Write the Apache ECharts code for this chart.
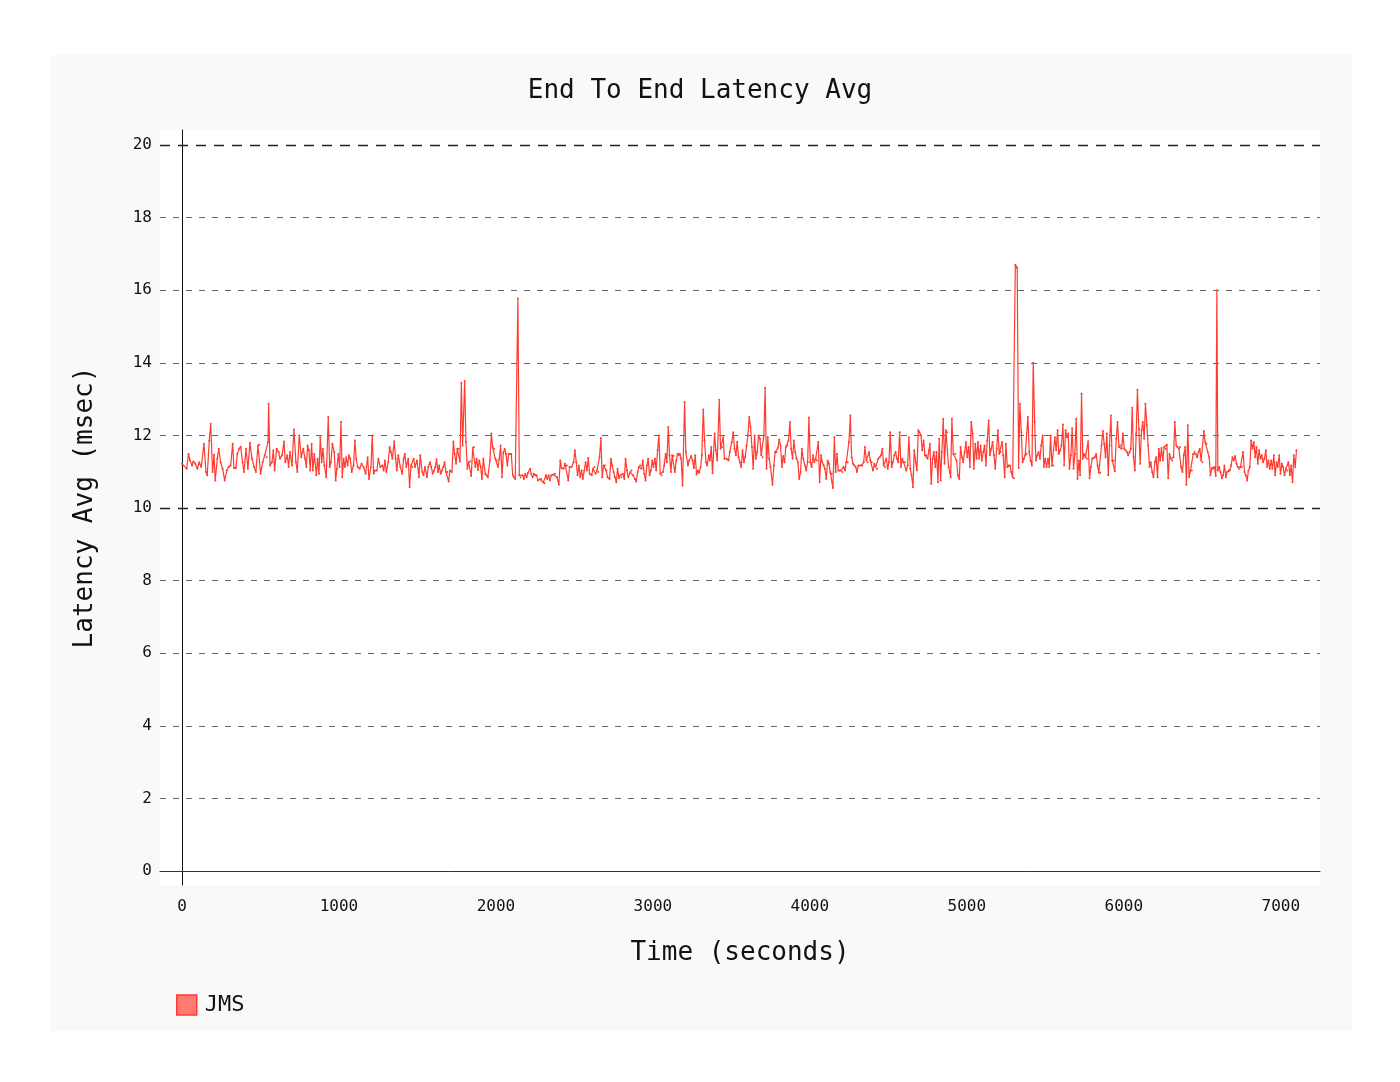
<!DOCTYPE html>
<html><head><meta charset="utf-8">
<script src="https://cdn.jsdelivr.net/npm/echarts@6/dist/echarts.min.js"></script>
<style>
html,body{margin:0;padding:0;background:#fff;}
#panel{position:absolute;left:50px;top:55px;width:1302px;height:976px;background:#f9f9f9;}
#chart{position:absolute;left:0;top:0;width:1400px;height:1082px;}
</style></head><body>
<div id="panel"></div><div id="chart"></div>
<script>
const times = [
0,30,42,51,64,72,85,98,110,123,140,153,161,174,183,195,204,212,225,234,246,259,272,285,297,310,323,331,344,352,365,374,386,395,408,420,433,446,459,471,484,493,501,514,527,539,548,552,561,573,582,590,603,616,624,637,650,658,671,679,688,701,713,726,735,747,760,773,
784,792,800,809,817,826,834,843,856,864,873,881,890,898,907,919,932,941,949,958,970,979,987,996,1004,1013,1021,1030,1038,1047,1055,1064,1072,1081,1093,1102,1110,1119,1132,1144,1157,1170,1183,1191,1204,1212,1221,1229,1242,1251,1263,1276,1285,1293,1302,1314,1323,1331,1340,1352,1361,1369,1378,1391,1403,1412,1420,1429,1442,1450,1459,1467,1476,1484,1497,1510,1518,1531,1539,1548,1561,1569,
1580,1588,1597,1605,1614,1622,1631,1639,1648,1656,1665,1673,1682,1690,1699,1707,1720,1729,1737,1746,1754,1763,1771,1780,1788,1801,1809,1818,1826,1835,1843,1852,1860,1869,1877,1886,1894,1903,1911,1920,1932,1941,1949,1962,1971,1979,1988,1996,2005,2013,2022,2030,2039,2047,2056,2064,2073,2081,2090,2098,2107,2115,2123,2140,2149,2157,2170,2179,2187,2196,2204,2217,2225,2234,2242,2251,2259,2268,2281,2289,2302,2310,2319,2327,2336,2344,2353,2366,
2376,2389,2401,2410,2418,2431,2440,2452,2461,2469,2482,2495,2503,2512,2520,2529,2537,2546,2554,2563,2571,2580,2588,2597,2610,2618,2627,2635,2644,2652,2660,2669,2677,2686,2694,2703,2711,2724,2733,2741,2750,2758,2767,2775,2784,2792,2801,2809,2818,2826,2835,2843,2856,2864,2873,2886,2894,2903,2911,2919,2928,2936,2945,2953,2962,2970,2979,2987,2996,3004,3013,3021,3030,3038,3047,3055,3064,3072,3081,3089,3098,3106,3115,3123,3132,3140,3149,3157,3166,
3172,3180,3189,3202,3210,3223,3231,3244,3253,3261,3270,3278,3287,3295,3304,3312,3321,3329,3338,3346,3355,3363,3372,3380,3393,3401,3410,3423,3431,3440,3448,3456,3469,3482,3490,3503,3512,3520,3529,3537,3546,3554,3563,3571,3580,3588,3597,3605,3614,3622,3631,3639,3648,3656,3665,3673,3682,3690,3699,3707,3715,3724,3732,3741,3749,3762,3771,3779,3788,3796,3805,3813,3822,3830,3839,3847,3856,3864,3873,3881,3890,3898,3907,3915,3924,3932,3941,3949,3958,
3969,3977,3986,3994,4003,4011,4020,4028,4037,4045,4054,4062,4071,4079,4088,4096,4105,4113,4122,4130,4139,4147,4156,4164,4173,4181,4190,4198,4207,4215,4224,4232,4241,4249,4258,4266,4275,4283,4292,4300,4309,4317,4326,4334,4343,4351,4360,4368,4377,4385,4394,4402,4411,4419,4428,4436,4445,4453,4462,4470,4479,4487,4496,4504,4512,4521,4529,4538,4546,4555,4563,4572,4580,4589,4597,4606,4614,4623,4631,4640,4648,4657,4665,4674,4682,4691,4699,4708,4716,4725,4733,4742,4750,4759,
4765,4773,4782,4790,4799,4807,4816,4824,4833,4841,4850,4858,4867,4875,4884,4897,4905,4914,4926,4935,4943,4952,4960,4969,4977,4986,4994,5003,5011,5020,5028,5037,5045,5054,5062,5071,5079,5088,5096,5105,5113,5122,5130,5139,5147,5156,5164,5173,5181,5190,5198,5207,5215,5224,5232,5241,5249,5258,5266,5275,5283,5292,5300,5309,5321,5330,5338,5347,5355,5364,5372,5381,5389,5398,5406,5415,5423,5432,5440,5449,5457,5466,5474,5483,5491,5500,5508,5517,5525,5534,5542,5551,
5561,5569,5578,5586,5595,5603,5612,5620,5629,5637,5646,5654,5663,5671,5680,5688,5697,5705,5714,5722,5731,5739,5748,5756,5765,5773,5782,5790,5799,5807,5816,5824,5833,5841,5850,5858,5867,5875,5884,5892,5901,5909,5918,5926,5935,5943,5952,5960,5969,5977,5986,5994,6003,6011,6020,6028,6037,6045,6054,6062,6071,6079,6087,6096,6104,6113,6121,6130,6138,6147,6155,6164,6172,6181,6189,6198,6206,6215,6223,6232,6240,6249,6257,6266,6274,6283,6291,6300,6308,6317,6325,6334,6342,6351,
6357,6365,6374,6382,6391,6399,6408,6416,6425,6433,6442,6450,6459,6467,6476,6484,6493,6501,6510,6518,6527,6535,6544,6552,6561,6569,6578,6586,6593,6599,6608,6616,6625,6633,6641,6650,6658,6667,6675,6684,6692,6701,6709,6718,6726,6735,6743,6752,6760,6769,6777,6786,6794,6803,6811,6820,6828,6837,6845,6854,6862,6871,6879,6888,6896,6905,6913,6922,6930,6939,6947,6956,6964,6973,6981,6990,6998,7007,7015,7024,7032,7041,7049,7058,7066,7075,7083,7092,7100
];
const latency = [
11.22,11.08,11.49,11.31,11.17,11.28,11.22,11.08,11.26,11.13,11.77,10.99,10.90,11.86,12.32,10.99,11.47,10.76,11.36,11.63,11.26,11.08,10.76,11.03,11.13,11.17,11.77,11.10,11.10,11.49,11.63,11.69,11.26,10.99,11.63,11.08,11.80,11.36,11.13,10.99,11.72,11.74,10.94,11.26,11.45,11.40,11.82,12.87,11.17,11.26,11.59,11.03,11.63,11.54,11.36,11.45,11.83,11.26,11.45,11.13,11.54,11.17,12.16,11.26,10.99,12.00,11.40,11.63,
11.36,11.13,11.72,11.59,11.03,11.77,11.03,11.49,10.90,11.36,10.94,11.95,11.26,11.63,11.17,10.85,12.51,11.13,11.26,11.77,11.54,10.76,11.08,11.49,11.13,12.37,10.85,11.36,11.13,11.40,11.17,11.45,11.36,10.99,11.17,11.86,11.36,11.13,11.08,11.22,11.13,10.94,11.40,10.80,11.13,12.00,10.94,11.03,11.03,11.36,11.13,11.17,11.03,11.31,10.99,11.26,11.68,11.54,11.36,11.84,11.36,11.03,11.45,11.13,10.94,11.36,11.49,11.13,11.36,10.57,11.17,11.13,11.36,11.13,11.31,10.85,11.45,10.99,10.90,11.13,10.85,11.13,
11.26,11.13,10.94,11.03,11.13,11.34,10.99,11.17,10.94,11.03,11.13,11.26,10.99,10.99,10.73,11.03,10.99,11.83,11.49,11.22,11.63,11.63,11.28,13.45,11.72,13.50,11.82,11.08,11.26,11.28,10.88,11.65,11.68,11.13,11.36,11.05,11.31,11.13,10.80,11.36,10.94,10.90,10.85,11.31,12.05,11.68,11.63,11.36,11.31,11.13,11.36,11.72,10.85,11.52,11.63,11.49,11.17,11.49,11.49,11.49,10.90,10.85,10.80,15.77,10.90,10.85,10.90,10.80,10.94,10.85,10.97,11.08,10.94,10.85,10.94,10.90,10.90,10.76,10.79,10.80,10.71,10.68,10.90,10.80,10.90,10.76,10.90,10.92,
10.94,10.85,10.64,11.31,11.10,11.08,11.22,11.17,10.76,11.13,11.13,11.26,11.59,11.26,10.90,11.17,10.85,11.03,10.80,11.03,11.26,11.03,11.38,10.94,10.90,11.08,11.13,10.94,11.03,10.99,11.40,11.93,10.85,11.17,11.17,11.03,10.85,10.80,11.36,11.17,10.99,10.85,10.71,11.08,10.82,10.90,10.85,10.94,10.80,11.36,11.03,10.85,10.99,11.03,10.90,10.80,10.73,10.99,11.13,11.17,11.08,11.31,10.94,10.76,11.17,11.36,10.90,11.03,11.31,11.13,11.36,11.03,11.59,12.00,10.94,10.90,10.99,11.17,11.49,11.26,12.23,11.45,10.99,11.45,11.43,10.99,11.31,11.49,11.45,
11.49,11.36,10.62,12.92,11.54,11.17,11.31,11.43,11.31,11.10,11.45,10.92,11.03,10.97,11.13,11.45,12.71,11.86,11.26,11.17,11.45,11.31,11.68,10.96,12.05,11.59,11.31,12.98,11.63,11.68,11.95,11.36,11.36,11.31,11.54,11.82,12.09,11.63,11.45,11.82,11.40,11.26,11.13,11.59,11.26,11.40,11.72,12.00,12.51,12.23,11.68,11.08,12.00,11.36,11.54,12.00,11.91,11.45,11.40,12.00,13.31,11.08,11.95,11.36,11.13,10.64,11.17,11.54,11.54,11.65,11.89,11.72,11.13,11.43,11.26,11.68,11.72,11.86,12.37,11.63,11.36,11.86,11.54,11.36,11.26,10.80,10.99,11.63,11.36,
11.17,11.03,11.26,12.49,11.26,11.13,11.45,11.26,11.36,11.31,11.82,10.71,11.45,11.26,11.17,11.08,10.80,11.31,11.22,10.99,10.94,10.55,11.95,10.99,11.49,11.03,11.03,11.03,10.99,11.13,11.03,11.26,11.26,11.82,12.55,11.40,11.22,11.17,11.13,10.99,11.17,11.17,11.17,11.17,11.26,11.68,11.31,11.26,11.54,11.31,11.26,11.03,11.22,11.13,11.08,11.36,11.40,11.45,11.63,11.17,11.13,11.36,11.08,11.26,12.09,11.13,11.26,11.45,11.54,11.36,11.26,12.09,11.13,11.36,11.26,11.26,11.03,11.17,11.95,11.08,10.90,10.57,11.59,11.26,11.03,12.14,12.09,12.00,11.59,11.86,11.45,11.45,11.36,11.59,
11.77,10.67,11.36,11.54,11.13,11.54,10.71,11.91,10.76,11.54,12.46,11.22,12.14,12.09,11.13,10.85,12.46,11.49,11.49,11.31,10.90,10.80,11.68,11.40,11.26,11.54,11.82,11.40,11.68,11.13,12.37,12.05,11.08,11.77,11.36,11.82,11.36,11.72,11.31,11.54,11.72,11.17,11.86,12.41,11.45,11.63,11.82,11.45,11.08,11.63,12.14,11.49,11.54,11.82,11.45,10.85,11.77,11.13,11.17,11.17,10.99,10.85,10.82,16.70,16.62,11.10,12.87,12.09,11.26,11.36,11.45,11.49,12.51,11.54,11.31,11.17,14.00,12.37,11.31,11.45,11.54,11.36,11.72,12.00,11.13,11.36,11.13,11.36,11.13,12.00,11.17,11.17,
11.95,11.59,12.14,11.49,11.59,11.72,12.30,11.17,12.14,11.95,12.05,11.08,11.45,12.20,11.08,11.49,12.46,10.80,11.31,10.90,13.15,11.36,11.49,11.40,11.36,11.84,10.82,11.13,11.36,11.38,11.40,11.49,11.17,10.97,10.97,11.72,12.12,11.77,11.40,12.05,10.90,11.72,12.55,11.31,11.31,11.01,11.91,12.37,11.68,11.72,11.63,12.05,11.63,11.60,11.54,11.45,11.54,11.63,12.76,11.40,11.03,12.05,13.26,12.18,11.22,12.14,12.37,11.91,12.87,12.28,11.72,11.13,11.26,10.99,10.85,11.26,11.40,10.85,11.63,11.31,11.65,11.31,11.68,11.63,11.74,10.82,11.49,11.36,11.31,11.40,12.37,11.72,11.68,11.63,
11.68,11.13,10.99,11.45,11.68,10.64,12.28,10.85,11.03,11.03,11.49,11.54,11.49,11.40,11.54,11.63,11.31,11.26,12.12,11.82,11.77,11.54,11.40,10.90,11.10,11.08,11.13,10.88,16.00,11.03,11.13,10.99,10.82,10.90,11.17,10.85,10.99,11.03,11.03,11.17,11.40,11.31,11.43,11.22,11.13,11.08,11.13,11.13,11.54,10.99,10.90,10.76,11.03,11.13,11.86,11.63,11.82,11.40,11.68,11.22,11.59,11.36,11.45,11.26,11.36,11.59,11.13,11.31,11.08,11.31,11.08,11.45,10.90,11.26,11.13,11.45,10.94,11.22,11.13,10.90,11.08,11.03,11.26,10.90,11.17,10.71,11.45,11.13,11.59
];
const xTickLabels = [0,1000,2000,3000,4000,5000,6000,7000];
const yTickLabels = [0,2,4,6,8,10,12,14,16,18,20];
const yMinorGrid = [2,4,6,8,12,14,16,18];
const yMajorGrid = [10,20];
const seriesName = 'JMS';

const FONT = 'DejaVu Sans Mono';
const points = times.map((t, i) => [t, latency[i]]);

const chart = echarts.init(document.getElementById('chart'), null, {renderer: 'canvas'});
chart.setOption({
  animation: false,
  backgroundColor: 'transparent',
  title: {
    text: 'End To End Latency Avg',
    left: 'center',
    top: 73,
    textStyle: {fontFamily: FONT, fontSize: 26, fontWeight: 'normal', color: '#111'}
  },
  legend: {
    data: [seriesName],
    left: 171,
    top: 989,
    icon: 'rect',
    itemWidth: 20,
    itemHeight: 20,
    itemStyle: {color: 'rgba(255,90,80,0.8)', borderColor: '#ff3b30', borderWidth: 1.5},
    textStyle: {fontFamily: FONT, fontSize: 22, color: '#111', padding: [0, 0, 0, 3]}
  },
  grid: {
    left: 160, right: 80, top: 130, bottom: 197,
    show: true, backgroundColor: '#ffffff', borderWidth: 0
  },
  xAxis: {
    type: 'value',
    min: -140,
    max: 7250,
    name: 'Time (seconds)',
    nameLocation: 'middle',
    nameGap: 55,
    nameTextStyle: {fontFamily: FONT, fontSize: 26, color: '#111'},
    axisLine: {show: true, onZero: true, lineStyle: {color: '#333', width: 1}},
    axisTick: {show: false, customValues: xTickLabels},
    axisLabel: {customValues: xTickLabels, formatter: v => String(v), fontFamily: FONT, fontSize: 16, color: '#111', margin: 14},
    splitLine: {show: false}
  },
  yAxis: {
    type: 'value',
    min: -0.3857,
    max: 20.413,
    name: 'Latency Avg (msec)',
    nameLocation: 'middle',
    nameGap: 62,
    nameTextStyle: {fontFamily: FONT, fontSize: 26, color: '#111'},
    axisLine: {show: true, onZero: true, lineStyle: {color: '#111', width: 1}},
    axisTick: {show: false, customValues: yMinorGrid},
    axisLabel: {customValues: yTickLabels, formatter: v => String(v), fontFamily: FONT, fontSize: 16, color: '#111', margin: 8},
    splitLine: {show: true, lineStyle: {color: '#666', width: 1, type: [6, 7]}}
  },
  series: [{
    name: seriesName,
    type: 'line',
    data: points,
    color: '#ff3b30',
    lineStyle: {color: '#ff3b30', width: 1.2},
    symbol: 'circle',
    symbolSize: 2,
    showAllSymbol: true,
    itemStyle: {color: '#ff3b30'},
    z: 3,
    markLine: {
      silent: true,
      symbol: 'none',
      label: {show: false},
      lineStyle: {color: '#222', width: 1.4, type: [10, 8]},
      data: yMajorGrid.map(v => ({yAxis: v})),
      z: 1
    }
  }]
});
</script>
</body></html>
